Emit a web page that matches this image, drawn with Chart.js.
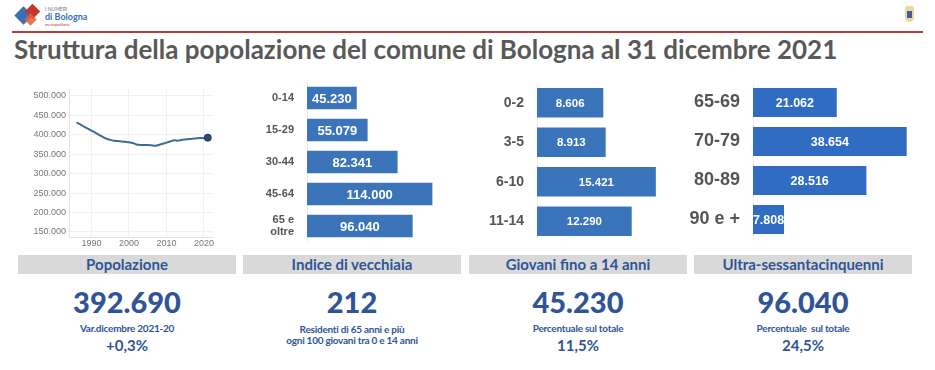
<!DOCTYPE html>
<html lang="it">
<head>
<meta charset="utf-8">
<title>Struttura della popolazione - Bologna 2021</title>
<script src="https://cdn.jsdelivr.net/npm/chart.js@4.4.1/dist/chart.umd.min.js"></script>
<style>
  html, body { margin: 0; padding: 0; background: #fff; }
  #page { position: relative; width: 935px; height: 370px; overflow: hidden; font-family: Lato, "Open Sans", sans-serif; }
  .abs { position: absolute; }
  canvas { position: absolute; }
  #title { left: 14px; top: 34px; font-size: 26px; line-height: 31px; font-weight: 700; color: #595959; white-space: nowrap; }
  #rule { left: 12px; top: 31px; width: 911px; height: 2px; background: #b83a3a; }
  .head { top: 255px; height: 19px; width: 218px; background: #d9d9d9; color: #2f5597;
          font-weight: 700; font-size: 15px; line-height: 19px; text-align: center; }
  .big { top: 284px; width: 218px; text-align: center; color: #2f5597; font-weight: 900; font-size: 29px; line-height: 36px; }
  .sub { top: 323px; width: 218px; text-align: center; color: #2f5597; font-weight: 700; font-size: 10px; line-height: 11px; letter-spacing: -0.25px; }
  .pct { top: 336px; width: 218px; text-align: center; color: #2f5597; font-weight: 700; font-size: 15px; line-height: 18px; }
</style>
</head>
<body>
<div id="page">
  <!-- logo -->
  <div class="abs" style="left:17px;top:9px;width:13px;height:13px;background:#3a6fb5;transform:rotate(45deg);"></div>
  <div class="abs" style="left:27px;top:6px;width:11px;height:11px;background:#c0392b;transform:rotate(45deg);"></div>
  <div class="abs" style="left:26px;top:15px;width:9px;height:9px;background:#e0603a;transform:rotate(45deg);opacity:0.85;"></div>
  <div class="abs" style="left:45px;top:6px;font-size:5px;color:#777;">I NUMERI</div>
  <div class="abs" style="left:45px;top:11px;font-size:9px;font-weight:700;color:#3a6fb5;">di Bologna</div>
  <div class="abs" style="left:45px;top:22px;font-size:4px;color:#c0392b;">metropolitana</div>
  <!-- crest -->
  <div class="abs" style="left:905px;top:6px;width:9px;height:16px;background:#e8d9a0;border-radius:3px 3px 5px 5px;"></div>
  <div class="abs" style="left:907px;top:11px;width:5px;height:7px;background:#4a5a9a;"></div>

  <div id="rule" class="abs"></div>
  <div id="title" class="abs">Struttura della popolazione del comune di Bologna al 31 dicembre 2021</div>

  <canvas id="popChart" width="188" height="164" style="left:30px;top:84px;"></canvas>
  <canvas id="ageChart" width="200" height="160" style="left:250px;top:82px;"></canvas>
  <canvas id="youngChart" width="198" height="158" style="left:470px;top:83px;"></canvas>
  <canvas id="oldChart" width="230" height="156" style="left:690px;top:83px;"></canvas>

  <div class="abs head" style="left:18px;">Popolazione</div>
  <div class="abs head" style="left:243px;">Indice di vecchiaia</div>
  <div class="abs head" style="left:469px;">Giovani fino a 14 anni</div>
  <div class="abs head" style="left:694px;">Ultra-sessantacinquenni</div>

  <div class="abs big" style="left:18px;">392.690</div>
  <div class="abs big" style="left:243px;">212</div>
  <div class="abs big" style="left:469px;">45.230</div>
  <div class="abs big" style="left:694px;">96.040</div>

  <div class="abs sub" style="left:18px;">Var.dicembre 2021-20</div>
  <div class="abs pct" style="left:18px;">+0,3%</div>
  <div class="abs sub" style="left:243px;top:324px;">Residenti di 65 anni e più<br>ogni 100 giovani tra 0 e 14 anni</div>
  <div class="abs sub" style="left:469px;">Percentuale sul totale</div>
  <div class="abs pct" style="left:469px;">11,5%</div>
  <div class="abs sub" style="left:694px;">Percentuale&nbsp; sul totale</div>
  <div class="abs pct" style="left:694px;">24,5%</div>
</div>

<script>
// popolazione residente al 31 dicembre
const years = [1986, 1987, 1988, 1989, 1990, 1991, 1992, 1993, 1994, 1995, 1996, 1997,
               1998, 1999, 2000, 2001, 2002, 2003, 2004, 2005, 2006, 2007, 2008, 2009,
               2010, 2011, 2012, 2013, 2014, 2015, 2016, 2017, 2018, 2019, 2020, 2021];
const residents = [432000, 427000, 421000, 416000, 411000, 406000, 400000, 395000, 390000, 387000, 385000, 384000,
                   383000, 382000, 381000, 379000, 375000, 374000, 374000, 374000, 373000, 372000, 374000, 377000,
                   380000, 383000, 386000, 385000, 387000, 388000, 389000, 390000, 391000, 392000, 391500, 392690];
const yearTicks = [1990, 2000, 2010, 2020];
const popTicks = [150000, 200000, 250000, 300000, 350000, 400000, 450000, 500000];

// classi di eta
const ageLabels = ['0-14', '15-29', '30-44', '45-64', ['65 e', 'oltre']];
const ageValues = [45230, 55079, 82341, 114000, 96040];

const youngLabels = ['0-2', '3-5', '6-10', '11-14'];
const youngValues = [8606, 8913, 15421, 12290];

const oldLabels = ['65-69', '70-79', '80-89', '90 e +'];
const oldValues = [21062, 38654, 28516, 7808];

function fmt(v) {
    return String(Math.round(v)).replace(/\B(?=(\d{3})+(?!\d))/g, '.');
}

// toglie il margine che Chart.js aggiunge per le etichette
function noPad(s) {
    s.paddingTop = 0;
    s.paddingBottom = 0;
    s.paddingLeft = 0;
    s.paddingRight = 0;
}

Chart.defaults.font.family = '"Liberation Sans", Arial, sans-serif';
Chart.defaults.animation = false;

const barLabels = {
    id: 'barLabels',
    afterDatasetsDraw(chart, args, opts) {
        const ctx = chart.ctx;
        const meta = chart.getDatasetMeta(0);
        ctx.save();
        ctx.fillStyle = '#ffffff';
        ctx.font = opts.font;
        ctx.textAlign = 'center';
        ctx.textBaseline = 'middle';
        meta.data.forEach((bar, i) => {
            const v = chart.data.datasets[0].data[i];
            ctx.fillText(fmt(v), (bar.base + bar.x) / 2, bar.y + 1);
        });
        ctx.restore();
    }
};

new Chart(document.getElementById('popChart'), {
    type: 'line',
    data: {
        labels: years,
        datasets: [{
            data: years.map((y, i) => ({ x: y, y: residents[i] })),
            borderColor: '#3f6a97',
            borderWidth: 2,
            tension: 0.2,
            pointRadius: residents.map((v, i) => i === residents.length - 1 ? 3.5 : 0),
            pointBackgroundColor: '#2c4a6e',
            pointBorderColor: '#1f3552',
            pointBorderWidth: 1
        }]
    },
    options: {
        responsive: false,
        devicePixelRatio: 1,
        layout: { padding: { top: 2, right: 5 } },
        plugins: { legend: { display: false }, tooltip: { enabled: false } },
        scales: {
            x: {
                type: 'linear',
                min: 1984,
                max: 2022.4,
                afterBuildTicks: s => { s.ticks = yearTicks.map(v => ({ value: v })); },
                afterFit: s => { s.height = 11; noPad(s); },
                ticks: { color: '#777', font: { size: 9 }, padding: 1, maxRotation: 0, callback: v => String(v) },
                grid: { color: '#f1f1f1', drawTicks: false },
                border: { color: '#e4e4e4' }
            },
            y: {
                min: 137000,
                max: 518000,
                afterBuildTicks: s => { s.ticks = popTicks.map(v => ({ value: v })); },
                afterFit: s => { s.width = 39; noPad(s); },
                ticks: { color: '#777', font: { size: 9 }, padding: 3, callback: v => fmt(v) },
                grid: { color: '#f1f1f1', drawTicks: false },
                border: { color: '#e4e4e4' }
            }
        }
    }
});

function barChart(id, labels, values, opts) {
    return new Chart(document.getElementById(id), {
        type: 'bar',
        data: {
            labels: labels,
            datasets: [{
                data: values,
                backgroundColor: opts.color,
                categoryPercentage: 1,
                barPercentage: opts.barPct
            }]
        },
        options: {
            indexAxis: 'y',
            responsive: false,
            devicePixelRatio: 1,
            layout: { padding: 0 },
            plugins: {
                legend: { display: false },
                tooltip: { enabled: false },
                barLabels: { font: opts.valueFont }
            },
            scales: {
                x: { display: false, min: 0, max: opts.max },
                y: {
                    afterFit: s => { s.width = opts.axisWidth; noPad(s); },
                    ticks: {
                        color: '#555',
                        padding: 5,
                        font: { size: opts.labelSize, weight: 'bold', lineHeight: 1.1 }
                    },
                    grid: { display: false },
                    border: { color: '#ececec' }
                }
            }
        },
        plugins: [barLabels]
    });
}

barChart('ageChart', ageLabels, ageValues, {
    color: '#3b74b8', barPct: 0.705, max: 130000, axisWidth: 57, labelSize: 11,
    valueFont: 'bold 13px "Liberation Sans", Arial, sans-serif'
});
barChart('youngChart', youngLabels, youngValues, {
    color: '#3a74bb', barPct: 0.747, max: 17000, axisWidth: 67, labelSize: 14,
    valueFont: 'bold 11.5px "Liberation Sans", Arial, sans-serif'
});
barChart('oldChart', oldLabels, oldValues, {
    color: '#2f6cc2', barPct: 0.744, max: 42000, axisWidth: 63, labelSize: 18,
    valueFont: 'bold 12.5px "Liberation Sans", Arial, sans-serif'
});
</script>
</body>
</html>
